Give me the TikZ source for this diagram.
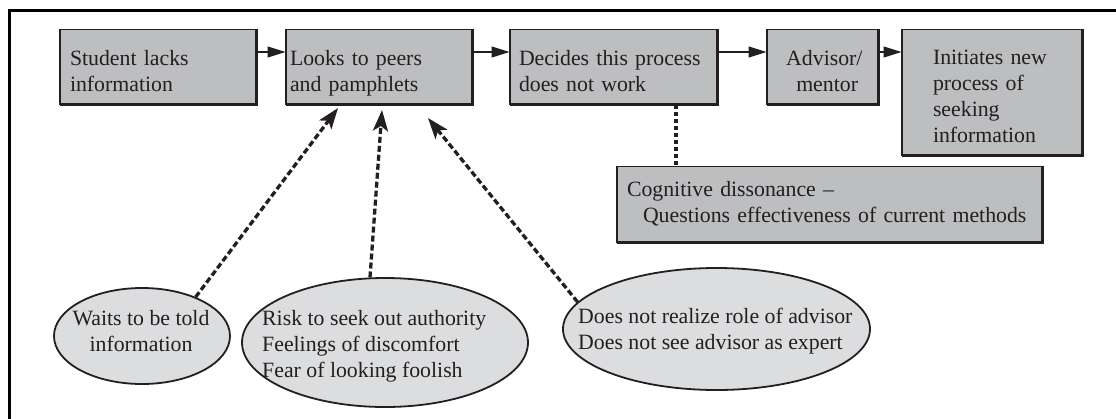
\documentclass[tikz,border=0pt]{standalone}
\usepackage{fontspec}
\setmainfont{Liberation Serif}
\usetikzlibrary{arrows.meta,shapes.geometric,calc}
\definecolor{boxfill}{HTML}{BCBEC0}
\definecolor{ellfill}{HTML}{DCDDDE}
\definecolor{ink}{HTML}{231F20}
\newcommand{\topS}{\rule{0pt}{28pt}}
\newcommand{\botS}{\rule[-5pt]{0pt}{5pt}}
\begin{document}
\begin{tikzpicture}[x=1pt,y=-1pt,
  every node/.style={text=ink},
  box/.style={draw=ink, line width=1pt, fill=boxfill, inner ysep=0pt, minimum height=75pt, align=left},
  ell/.style={ellipse, draw=ink, line width=1.8pt, fill=ellfill, inner sep=0pt},
  etext/.style={inner sep=0pt, align=left},
  flow/.style={draw=ink, line width=1.2pt, -{Triangle[length=18pt,width=11pt]}},
  dflow/.style={draw=ink, line width=3.3pt, dash pattern=on 6pt off 3pt, -{Stealth[length=21pt,width=15pt,inset=5pt]}},
  dline/.style={draw=ink, line width=3.2pt, dash pattern=on 4.5pt off 2.5pt},
  font=\fontsize{21.8}{26}\selectfont]
\useasboundingbox (0,0) rectangle (1116,418);
% frame
\draw[black, line width=2.7pt] (9.7,430) -- (9.7,10.3) -- (1130,10.3);
% boxes
\node[box, minimum width=196pt, text width=176pt, inner xsep=10pt] (b1) at (158,66.5) {\topS Student lacks\\information\botS};
\node[box, minimum width=186pt, text width=178pt, inner xsep=4pt] (b2) at (379,66.5) {\topS Looks to peers\\and pamphlets\botS};
\node[box, minimum width=207pt, text width=189pt, inner xsep=9pt] (b3) at (613.5,66.5) {\topS Decides this process\\does not work\botS};
\node[box, minimum width=111pt, text width=80pt, inner xsep=15.5pt, align=right] (b4) at (822.5,66.5) {\topS Advisor/\hspace*{4.5pt}\\mentor\hspace*{4.5pt}\botS};
\node[box, minimum width=180pt, minimum height=126pt, text width=122pt, inner xsep=29pt] (b5) at (992,92) {\topS \hspace*{2pt}Initiates new\\\hspace*{2pt}process of\\\hspace*{2pt}seeking\\\hspace*{2pt}information\botS};
\node[box, minimum width=425pt, minimum height=76pt, text width=405pt, inner xsep=10pt] (b6) at (829.5,204) {Cognitive dissonance –\\\hspace*{16pt}Questions effectiveness of current methods};
\foreach \n in {b1,b2,b3,b4,b5,b6} {
  \draw[ink, line width=2.6pt] (\n.north east) -- (\n.south east) -- (\n.south west);
  \draw[ink, line width=1.8pt] (\n.south west) -- (\n.north west);
}
% ellipses
\node[ell, minimum width=176pt, minimum height=96pt] (e1) at (142,336) {};
\node[etext, align=center] (t1) at (141,331) {Waits to be told\\information};
\node[ell, minimum width=286pt, minimum height=129pt] (e2) at (385,342.5) {};
\node[etext, anchor=west] (t2) at (262,346.4) {Risk to seek out authority\\Feelings of discomfort\\Fear of looking foolish};
\node[ell, minimum width=307pt, minimum height=122pt] (e3) at (716.5,329) {};
\node[etext, anchor=west] (t3) at (578,331.4) {Does not realize role of advisor\\Does not see advisor as expert};
% connectors
\draw[flow] ([yshift=14.5pt]b1.east) -- ([yshift=14.5pt]b1.east -| b2.west);
\draw[flow] ([yshift=14.5pt]b2.east) -- ([yshift=14.5pt]b2.east -| b3.west);
\draw[flow] ([yshift=14.5pt]b3.east) -- ([yshift=14.5pt]b3.east -| b4.west);
\draw[flow] ([yshift=14.5pt]b4.east) -- ([yshift=14.5pt]b4.east -| b5.west);
\draw[dline] ([xshift=62.5pt]b3.south) -- ([xshift=62.5pt]b3.south |- b6.north);
\coordinate (k1) at (338,108);
\coordinate (k2) at (382,110);
\coordinate (k3) at (428,118);
\draw[dflow] (e1.36) -- (k1);
\draw[dflow] (e2.103) -- (k2);
\draw[dflow] (e3.169) -- (k3);
\end{tikzpicture}
\end{document}
